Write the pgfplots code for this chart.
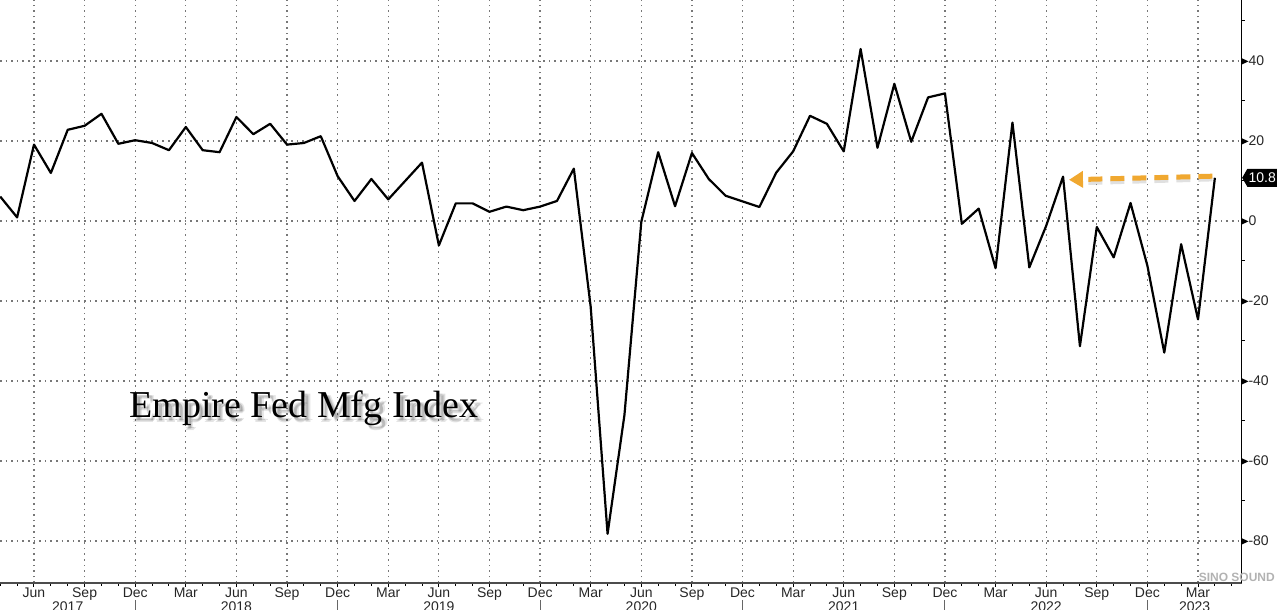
\documentclass[border=0pt]{standalone}
\usepackage{fontspec}
\setmainfont{Liberation Serif}
\newfontfamily\lab{Liberation Sans}
\usepackage{pgfplots}
\pgfplotsset{compat=1.18}
\usetikzlibrary{arrows.meta,shapes.symbols}
\definecolor{gridc}{HTML}{777777}
\definecolor{arrowc}{HTML}{F0A830}

\pgfplotstableread{
m v
4 6.1
5 0.9
6 19.1
7 12.0
8 22.8
9 23.8
10 26.8
11 19.3
12 20.2
13 19.5
14 17.7
15 23.5
16 17.7
17 17.2
18 26.0
19 21.7
20 24.3
21 19.1
22 19.5
23 21.2
24 11.2
25 5.0
26 10.5
27 5.4
28 10.0
29 14.6
30 -6.1
31 4.4
32 4.4
33 2.3
34 3.6
35 2.7
36 3.6
37 5.0
38 13.1
39 -21.5
40 -78.2
41 -48.5
42 -0.2
43 17.2
44 3.7
45 17.0
46 10.5
47 6.3
48 4.9
49 3.5
50 12.1
51 17.4
52 26.3
53 24.3
54 17.4
55 43.0
56 18.3
57 34.3
58 19.8
59 30.9
60 31.9
61 -0.7
62 3.1
63 -11.8
64 24.6
65 -11.6
66 -1.2
67 11.1
68 -31.3
69 -1.5
70 -9.1
71 4.5
72 -11.2
73 -32.9
74 -5.8
75 -24.6
76 10.8
}\empire

\begin{document}
\begin{tikzpicture}[x=1pt,y=1pt]
\useasboundingbox (0,0) rectangle (640,305);
\begin{axis}[
 at={(0pt,13.5pt)}, anchor=south west,
 width=620.85pt, height=291.5pt, scale only axis,
 xmin=3.985, xmax=77.59, ymin=-90.5, ymax=55.25,
 axis x line*=bottom, axis y line*=right,
 x axis line style={draw=black!70, line width=0.8pt},
 y axis line style={draw=black, line width=0.6pt},
 xtick={6,9,...,75},
 xticklabels={Jun,Sep,Dec,Mar,Jun,Sep,Dec,Mar,Jun,Sep,Dec,Mar,Jun,Sep,Dec,Mar,Jun,Sep,Dec,Mar,Jun,Sep,Dec,Mar},
 minor xtick={4,...,77},
 ytick={-80,-60,...,40},
 minor ytick={-70,-50,...,50},
 tick align=outside,
 major tick length=2pt, minor tick length=1.5pt,
 tick style={black, line width=0.5pt},
 grid=major,
 major grid style={gridc, line width=0.6pt, dash pattern=on 0.8pt off 2pt},
 xticklabel style={font=\lab\fontsize{7}{8}\selectfont, text=black!85, inner ysep=0pt},
 yticklabel style={font=\lab\fontsize{7}{8}\selectfont, text=black!85, anchor=west, inner xsep=0pt, xshift=-2pt},
 yticklabel={\tikz[baseline=-0.6ex]\fill[black] (0,-1.5pt)--(3.2pt,0)--(0,1.5pt)--cycle;\pgfmathprintnumber{\tick}},
 /pgf/number format/assume math mode=true,
 clip=false,
]
% top border
\draw[black!45, line width=0.5pt] (rel axis cs:0,1) -- (rel axis cs:1,1);

% data
\addplot[black, line width=1.1pt, line join=round, mark=none] table[x=m, y=v] {\empire};

% arrow (shadow + orange)
\addplot[black!30, opacity=0.4, line width=2.8pt, dash pattern=on 7pt off 4pt, forget plot, mark=none] coordinates {(75.85,10.6) (68.0,9.65)};
\addplot[arrowc, line width=2.5pt, dash pattern=on 7pt off 4pt, -{Triangle[length=7pt,width=8pt]}, forget plot, mark=none] coordinates {(75.85,11.2) (67.35,10.3)};

% title with soft shadow
\node[font=\fontsize{19}{22}\selectfont, text=black, opacity=0.10, xshift=1.5pt, yshift=-1.5pt] at (axis cs:22,-46.75) {Empire Fed Mfg Index};
\node[font=\fontsize{19}{22}\selectfont, text=black, opacity=0.10, xshift=2.2pt, yshift=-2.2pt] at (axis cs:22,-46.75) {Empire Fed Mfg Index};
\node[font=\fontsize{19}{22}\selectfont, text=black, opacity=0.10, xshift=2.8pt, yshift=-1.8pt] at (axis cs:22,-46.75) {Empire Fed Mfg Index};
\node[font=\fontsize{19}{22}\selectfont, text=black, opacity=0.10, xshift=1.8pt, yshift=-2.8pt] at (axis cs:22,-46.75) {Empire Fed Mfg Index};
\node[font=\fontsize{19}{22}\selectfont, text=black] at (axis cs:22,-46.75) {Empire Fed Mfg Index};

% year labels
\node[anchor=north, font=\lab\fontsize{7}{8}\selectfont, text=black!85, inner sep=0pt, yshift=-9pt] at (axis cs:8,-90.5) {2017};
\node[anchor=north, font=\lab\fontsize{7}{8}\selectfont, text=black!85, inner sep=0pt, yshift=-9pt] at (axis cs:18,-90.5) {2018};
\node[anchor=north, font=\lab\fontsize{7}{8}\selectfont, text=black!85, inner sep=0pt, yshift=-9pt] at (axis cs:30,-90.5) {2019};
\node[anchor=north, font=\lab\fontsize{7}{8}\selectfont, text=black!85, inner sep=0pt, yshift=-9pt] at (axis cs:42,-90.5) {2020};
\node[anchor=north, font=\lab\fontsize{7}{8}\selectfont, text=black!85, inner sep=0pt, yshift=-9pt] at (axis cs:54,-90.5) {2021};
\node[anchor=north, font=\lab\fontsize{7}{8}\selectfont, text=black!85, inner sep=0pt, yshift=-9pt] at (axis cs:66,-90.5) {2022};
\node[anchor=north, font=\lab\fontsize{7}{8}\selectfont, text=black!85, inner sep=0pt, yshift=-9pt] at (axis cs:74.8,-90.5) {2023};

% year separators
\draw[black!60, line width=0.5pt] ([yshift=-8.5pt]axis cs:12,-90.5) -- ([yshift=-15pt]axis cs:12,-90.5);
\draw[black!60, line width=0.5pt] ([yshift=-8.5pt]axis cs:24,-90.5) -- ([yshift=-15pt]axis cs:24,-90.5);
\draw[black!60, line width=0.5pt] ([yshift=-8.5pt]axis cs:36,-90.5) -- ([yshift=-15pt]axis cs:36,-90.5);
\draw[black!60, line width=0.5pt] ([yshift=-8.5pt]axis cs:48,-90.5) -- ([yshift=-15pt]axis cs:48,-90.5);
\draw[black!60, line width=0.5pt] ([yshift=-8.5pt]axis cs:60,-90.5) -- ([yshift=-15pt]axis cs:60,-90.5);
\draw[black!60, line width=0.5pt] ([yshift=-8.5pt]axis cs:72,-90.5) -- ([yshift=-15pt]axis cs:72,-90.5);

% last value label
\node[signal, signal to=west, signal pointer angle=120, fill=black, text=white, font=\lab\fontsize{7}{8}\selectfont, inner xsep=0.6pt, inner ysep=2pt, anchor=west] at (axis cs:77.59,10.8) {10.8};

% watermark
\node[font=\lab\bfseries\fontsize{6}{7}\selectfont, text=black!30] at (axis cs:77.3,-89.0) {SINO SOUND};
\end{axis}
\end{tikzpicture}
\end{document}
